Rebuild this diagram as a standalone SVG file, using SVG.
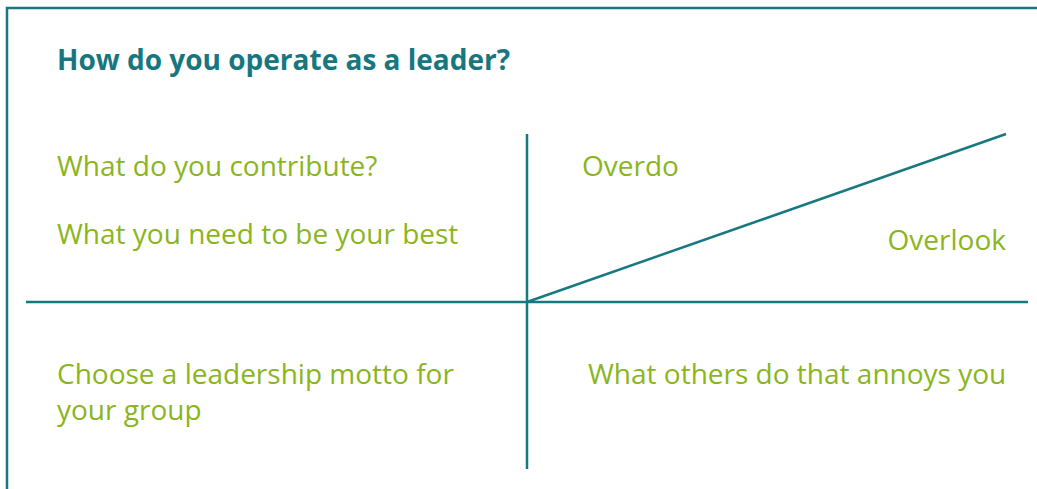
<svg xmlns="http://www.w3.org/2000/svg" width="1037" height="489" viewBox="0 0 1037 489">
<style>
.ln{stroke:#17797f;stroke-width:2.5;fill:none}
.t{font-family:"Open Sans",sans-serif;font-size:28px;fill:#8ab51d}
.h{font-family:"Open Sans",sans-serif;font-size:28px;font-weight:bold;fill:#17767e}
</style>
<rect x="0" y="0" width="1037" height="489" fill="#ffffff"/>
<g id="frame"><rect class="ln" x="7" y="8" width="1040" height="500"/></g>
<g id="title"><text class="h" x="57" y="70">How do you operate as a leader?</text></g>
<g id="connectors">
<line class="ln" x1="527" y1="134" x2="527" y2="469"/>
<line class="ln" x1="26" y1="302" x2="1028" y2="302"/>
<line class="ln" x1="527" y1="302" x2="1006" y2="134"/>
</g>
<g id="q1"><text class="t" x="57" y="176">What do you contribute?</text><text class="t" x="57" y="244">What you need to be your best</text></g>
<g id="overdo"><text class="t" x="582" y="176">Overdo</text></g>
<g id="overlook"><text class="t" x="1006" y="250" text-anchor="end">Overlook</text></g>
<g id="q3"><text class="t" x="57" y="384">Choose a leadership motto for</text><text class="t" x="57" y="420">your group</text></g>
<g id="q4"><text class="t" x="588" y="384">What others do that annoys you</text></g>
</svg>
